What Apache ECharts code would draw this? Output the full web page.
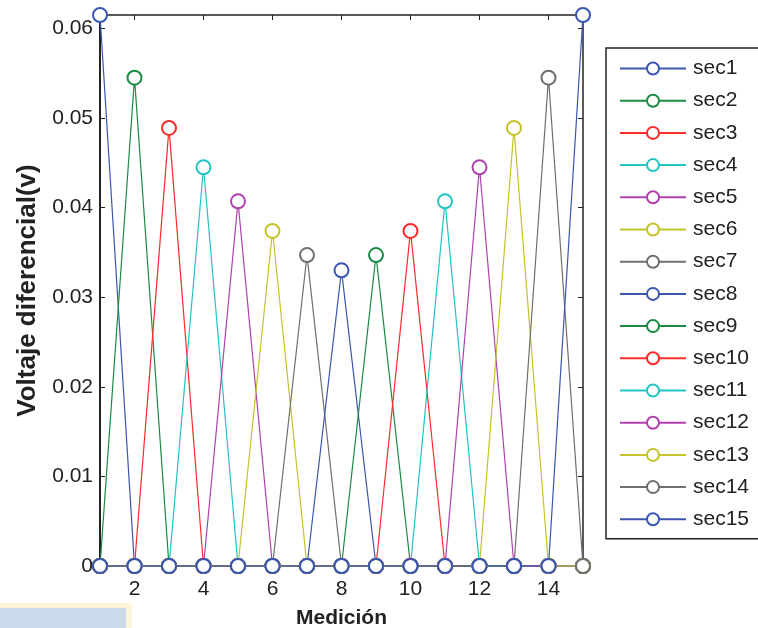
<!DOCTYPE html>
<html>
<head>
<meta charset="utf-8">
<script src="https://cdn.jsdelivr.net/npm/echarts@6/dist/echarts.min.js"></script>
<style>
  html, body { margin: 0; padding: 0; background: #fff; }
  #chart { width: 758px; height: 628px; }
</style>
</head>
<body>
<div id="chart"></div>
<script>
// x positions (Medición) and axis ticks
const mediciones = [1, 2, 3, 4, 5, 6, 7, 8, 9, 10, 11, 12, 13, 14, 15]
const xTicks = [2, 4, 6, 8, 10, 12, 14]
const yTicks = [0, 0.01, 0.02, 0.03, 0.04, 0.05, 0.06]

// one array per section
const sec1  = [0.0615, 0, 0, 0, 0, 0, 0, 0, 0, 0, 0, 0, 0, 0, 0]
const sec2  = [0, 0.0545, 0, 0, 0, 0, 0, 0, 0, 0, 0, 0, 0, 0, 0]
const sec3  = [0, 0, 0.0489, 0, 0, 0, 0, 0, 0, 0, 0, 0, 0, 0, 0]
const sec4  = [0, 0, 0, 0.0445, 0, 0, 0, 0, 0, 0, 0, 0, 0, 0, 0]
const sec5  = [0, 0, 0, 0, 0.0407, 0, 0, 0, 0, 0, 0, 0, 0, 0, 0]
const sec6  = [0, 0, 0, 0, 0, 0.0374, 0, 0, 0, 0, 0, 0, 0, 0, 0]
const sec7  = [0, 0, 0, 0, 0, 0, 0.0347, 0, 0, 0, 0, 0, 0, 0, 0]
const sec8  = [0, 0, 0, 0, 0, 0, 0, 0.0330, 0, 0, 0, 0, 0, 0, 0]
const sec9  = [0, 0, 0, 0, 0, 0, 0, 0, 0.0347, 0, 0, 0, 0, 0, 0]
const sec10 = [0, 0, 0, 0, 0, 0, 0, 0, 0, 0.0374, 0, 0, 0, 0, 0]
const sec11 = [0, 0, 0, 0, 0, 0, 0, 0, 0, 0, 0.0407, 0, 0, 0, 0]
const sec12 = [0, 0, 0, 0, 0, 0, 0, 0, 0, 0, 0, 0.0445, 0, 0, 0]
const sec13 = [0, 0, 0, 0, 0, 0, 0, 0, 0, 0, 0, 0, 0.0489, 0, 0]
const sec14 = [0, 0, 0, 0, 0, 0, 0, 0, 0, 0, 0, 0, 0, 0.0545, 0]
const sec15 = [0, 0, 0, 0, 0, 0, 0, 0, 0, 0, 0, 0, 0, 0, 0.0615]

const seriesNames = ['sec1', 'sec2', 'sec3', 'sec4', 'sec5', 'sec6', 'sec7', 'sec8',
  'sec9', 'sec10', 'sec11', 'sec12', 'sec13', 'sec14', 'sec15']
const seriesValues = [sec1, sec2, sec3, sec4, sec5, sec6, sec7, sec8,
  sec9, sec10, sec11, sec12, sec13, sec14, sec15]

// matlab-ish colour order
const palette = ['#3a56b0', '#1a8a45', '#ff2a2a', '#22c4c4', '#b040b0', '#c4c428', '#6f6f6f']

const font = "'Liberation Sans', Arial, sans-serif"
const axisColor = '#222'

const chart = echarts.init(document.getElementById('chart'))

const tickFmt = (v) => (v === 0 ? '0' : String(Math.round(v * 100) / 100))

chart.setOption({
  animation: false,
  grid: { left: 100, right: 175, top: 15, bottom: 62, outerBoundsMode: 'none' },
  legend: {
    orient: 'vertical',
    left: 606,
    top: 48,
    padding: [10, 40, 9, 13],
    itemWidth: 66,
    itemHeight: 15,
    itemGap: 11.2,
    borderColor: axisColor,
    borderWidth: 1.5,
    textStyle: { fontFamily: font, fontSize: 21, color: '#222', padding: [0, 0, 0, 2] },
    data: seriesNames
  },
  xAxis: [
    {
      type: 'value',
      min: 1,
      max: 15,
      position: 'bottom',
      name: 'Medición',
      nameLocation: 'middle',
      nameGap: 42,
      nameTextStyle: { fontFamily: font, fontSize: 21, fontWeight: 'bold', color: '#222' },
      axisLine: { show: true, onZero: false, lineStyle: { color: axisColor, width: 1.5 } },
      axisTick: { show: true, inside: true, length: 5, customValues: xTicks, lineStyle: { color: axisColor } },
      axisLabel: { customValues: xTicks, fontFamily: font, fontSize: 21, color: '#222', margin: 13 },
      splitLine: { show: false }
    },
    {
      type: 'value',
      min: 1,
      max: 15,
      position: 'top',
      axisLine: { show: true, onZero: false, lineStyle: { color: axisColor, width: 1.5 } },
      axisTick: { show: true, inside: true, length: 5, customValues: xTicks, lineStyle: { color: axisColor } },
      axisLabel: { show: false },
      splitLine: { show: false }
    }
  ],
  yAxis: [
    {
      type: 'value',
      min: 0,
      max: 0.0615,
      position: 'left',
      name: 'Voltaje diferencial(v)',
      nameLocation: 'middle',
      nameGap: 58,
      nameTextStyle: { fontFamily: font, fontSize: 26, fontWeight: 'bold', color: '#222' },
      axisLine: { show: true, onZero: false, lineStyle: { color: axisColor, width: 2 } },
      axisTick: { show: true, inside: true, length: 5, customValues: yTicks, lineStyle: { color: axisColor } },
      axisLabel: { customValues: yTicks, formatter: tickFmt, fontFamily: font, fontSize: 21, color: '#222', margin: 7 },
      splitLine: { show: false }
    },
    {
      type: 'value',
      min: 0,
      max: 0.0615,
      position: 'right',
      axisLine: { show: true, onZero: false, lineStyle: { color: axisColor, width: 1.5 } },
      axisTick: { show: true, inside: true, length: 5, customValues: yTicks, lineStyle: { color: axisColor } },
      axisLabel: { show: false },
      splitLine: { show: false }
    }
  ],
  series: seriesValues.map((vals, i) => ({
    name: seriesNames[i],
    type: 'line',
    xAxisIndex: 0,
    yAxisIndex: 0,
    clip: false,
    symbol: 'emptyCircle',
    symbolSize: 14,
    showAllSymbol: true,
    color: palette[i % palette.length],
    itemStyle: { color: palette[i % palette.length], borderWidth: 1.2 },
    lineStyle: { width: 1.2, color: palette[i % palette.length] },
    data: vals.map((v, k) => [mediciones[k], v])
  })),
  graphic: [
    { type: 'rect', shape: { x: 0, y: 603, width: 132, height: 25 }, style: { fill: '#fcf5d8' }, silent: true },
    { type: 'rect', shape: { x: 0, y: 608, width: 126, height: 20 }, style: { fill: '#cadaea' }, silent: true }
  ]
})
</script>
</body>
</html>
